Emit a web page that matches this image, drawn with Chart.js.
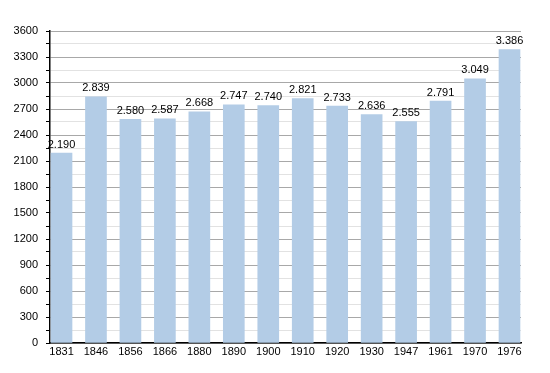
<!DOCTYPE html>
<html>
<head>
<meta charset="utf-8">
<script src="https://cdn.jsdelivr.net/npm/chart.js@4/dist/chart.umd.min.js"></script>
<style>
  html, body { margin: 0; padding: 0; background: #fff; }
</style>
</head>
<body>
<canvas id="chart1" width="550" height="373"></canvas>
<script>
// census years and population
const years = ["1831", "1846", "1856", "1866", "1880", "1890", "1900", "1910", "1920", "1930", "1947", "1961", "1970", "1976"]
const population = [2190, 2839, 2580, 2587, 2668, 2747, 2740, 2821, 2733, 2636, 2555, 2791, 3049, 3386]
const yMax = 3600
const yMajorStep = 300
const yMinorStep = 150

const canvas = document.getElementById("chart1")
const context = canvas.getContext("2d")

// bars are placed on a linear x scale so first/last bar touch the plot edges
const points = population.map((v, i) => ({ x: i, y: v }))
const edge = 0.334

// numbers above bars, german style "2.190"
const valueLabels = {
  id: 'valueLabels',
  afterDatasetsDraw(chart) {
    const ctx = chart.ctx
    const meta = chart.getDatasetMeta(0)
    ctx.save()
    ctx.font = '11px "Liberation Sans", Arial, sans-serif'
    ctx.fillStyle = '#000'
    ctx.textAlign = 'center'
    ctx.textBaseline = 'bottom'
    meta.data.forEach((bar, i) => {
      const txt = population[i].toLocaleString('de-DE')
      ctx.fillText(txt, bar.x, bar.y - 3)
    })
    ctx.restore()
  }
}

const config = {
  type: 'bar',
  data: {
    datasets: [{
      data: points,
      backgroundColor: '#b3cce6',
      borderWidth: 0,
      barThickness: 21
    }]
  },
  options: {
    responsive: false,
    animation: false,
    layout: { padding: { top: 31, right: 29, left: 0, bottom: 0 } },
    plugins: {
      legend: { display: false },
      tooltip: { enabled: false }
    },
    scales: {
      x: {
        type: 'linear',
        offset: false,
        min: -edge,
        max: years.length - 1 + edge,
        afterBuildTicks: scale => {
          scale.ticks = years.map((y, i) => ({ value: i }))
        },
        afterFit: scale => { scale.height = 30 },
        grid: { display: false, drawTicks: false },
        border: { color: '#000', width: 1.5 },
        ticks: {
          autoSkip: false,
          maxRotation: 0,
          padding: 2,
          color: '#000',
          font: { family: '"Liberation Sans", Arial, sans-serif', size: 11 },
          callback: v => years[v]
        }
      },
      y: {
        min: 0,
        max: yMax,
        afterFit: scale => { scale.width = 50 },
        ticks: {
          stepSize: yMinorStep,
          autoSkip: false,
          padding: 8,
          color: '#000',
          font: { family: '"Liberation Sans", Arial, sans-serif', size: 11 },
          callback: v => (v % yMajorStep === 0 ? v : '')
        },
        grid: {
          color: c => (c.tick && c.tick.value % yMajorStep === 0 ? '#a8a8a8' : '#e2e2e2'),
          tickColor: '#000',
          tickLength: 4,
          lineWidth: 1
        },
        border: { color: '#000', width: 1.5 }
      }
    }
  },
  plugins: [valueLabels]
}

const myChart = new Chart(context, config)
</script>
</body>
</html>
